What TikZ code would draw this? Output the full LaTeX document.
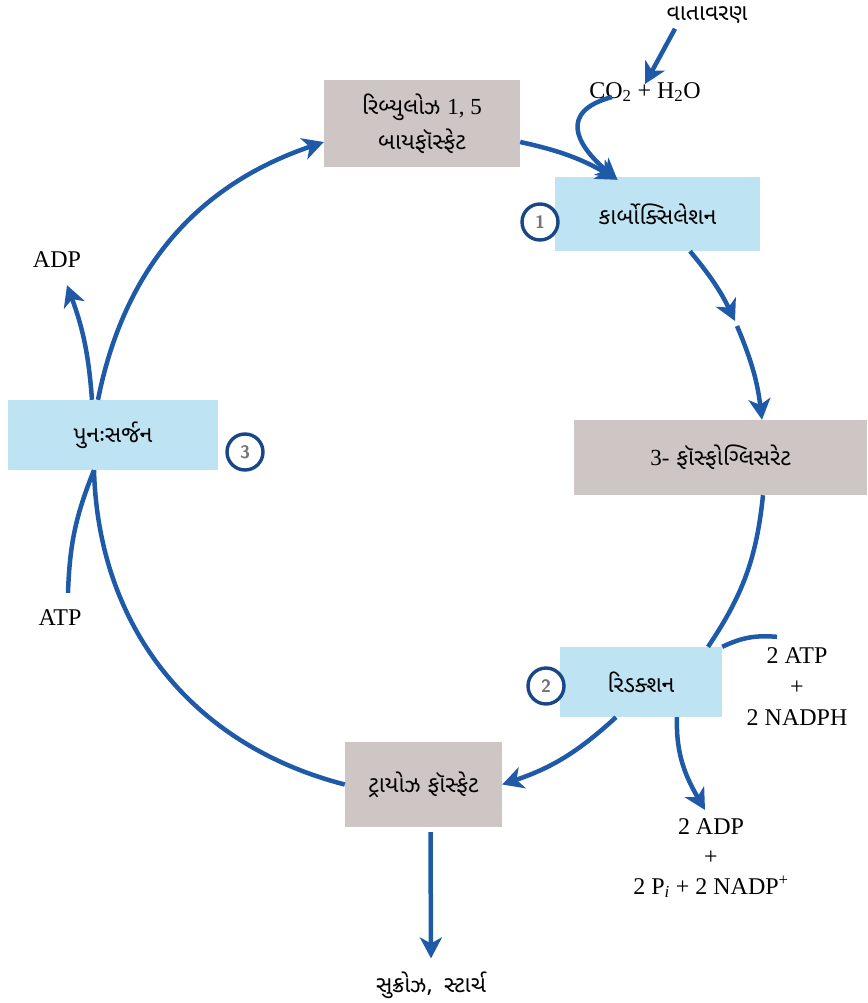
\documentclass[tikz,border=0pt]{standalone}
\usepackage{fontspec}
\setmainfont{Liberation Serif}
\newfontfamily\gujfont[Script=Gujarati]{Noto Sans Gujarati UI}
\usetikzlibrary{arrows.meta,positioning}

\definecolor{stepgray}{RGB}{206,197,197}
\definecolor{stepblue}{RGB}{190,227,242}
\definecolor{cycleblue}{RGB}{30,90,168}
\definecolor{ringblue}{RGB}{24,70,135}

\begin{document}
\begin{tikzpicture}[x=1pt, y=1pt,
  stage/.style={draw=none, align=center, inner sep=0pt,
                font=\gujfont\fontsize{23}{35}\selectfont},
  pool/.style={stage, fill=stepgray},
  phase/.style={stage, fill=stepblue},
  num/.style={circle, draw=ringblue, line width=3.4pt, fill=white,
              minimum size=36pt, inner sep=0pt, text=black!55,
              font=\sffamily\bfseries\fontsize{18}{18}\selectfont},
  lbl/.style={align=center, inner sep=0pt, font=\fontsize{24}{31}\selectfont},
  glbl/.style={inner sep=0pt, font=\gujfont\fontsize{23}{26}\selectfont},
  arr/.style={-{Stealth[length=21pt, width=22pt, inset=6pt]}, line width=4.5pt, draw=cycleblue},
  link/.style={line width=4.5pt, draw=cycleblue}
]
  \useasboundingbox (0,-1003) rectangle (867,0);

  % stages of the cycle
  \node[pool, minimum width=196pt, minimum height=87pt] (rubp) at (422,-123.5)
    {રિબ્યુલોઝ {\rmfamily 1, 5}\\બાયફૉસ્ફેટ};
  \node[phase, minimum width=205pt, minimum height=74pt] (carb) at (657.5,-214)
    {કાર્બોક્સિલેશન};
  \node[pool, minimum width=293pt, minimum height=75pt] (pga) at (720.5,-457.5)
    {{\rmfamily 3-} ફૉસ્ફોગ્લિસરેટ};
  \node[phase, minimum width=162pt, minimum height=70pt] (red) at (641,-682)
    {રિડક્શન};
  \node[pool, minimum width=157pt, minimum height=85pt] (triose) at (423.5,-784.5)
    {ટ્રાયોઝ ફૉસ્ફેટ};
  \node[phase, minimum width=210pt, minimum height=70pt] (regen) at (113,-435)
    {પુનઃસર્જન};

  \node[num] (one)   at (540,-222) {1};
  \node[num] (two)   at (546,-686) {2};
  \node[num] (three) at (245,-452) {3};

  % inputs and outputs
  \node[glbl] (atm)  at (707,-15) {વાતાવરણ};
  \node[lbl]  (co2)  at (645,-92) {CO\textsubscript{2} + H\textsubscript{2}O};
  \node[lbl]  (adp)  at (57,-260) {ADP};
  \node[lbl]  (atp)  at (60,-618) {ATP};
  \node[lbl]  (inp)  at (797,-687) {2 ATP\\+\\2 NADPH};
  \node[lbl, font=\fontsize{24}{30}\selectfont] (outp) at (711,-858)
    {2 ADP\\+\\2 P\textsubscript{\itshape i} + 2 NADP\textsuperscript{+}};
  \node[glbl] (sucr) at (431,-985) {સુક્રોઝ,\enspace સ્ટાર્ચ};

  \coordinate (brk) at (735,-321);

  \draw[arr] ([xshift=-15pt]regen.north) to[bend left=30] ([yshift=-18.5pt]rubp.west);
  \draw[arr] ([xshift=-21pt]regen.north) to[bend right=8] ([xshift=10pt,yshift=-17pt]adp.south);
  \draw[arr] ([yshift=-18.5pt]rubp.east) to[bend left=9] ([xshift=-40pt,yshift=-3pt]carb.north);
  \draw[arr] ([xshift=-33pt,yshift=5pt]co2.south) to[out=195,in=140,looseness=1.7] ([xshift=-40pt,yshift=-3pt]carb.north);
  \draw[arr] ([xshift=-32pt,yshift=-5pt]atm.south) -- ([yshift=-2pt]co2.north);
  \draw[arr] ([xshift=32.5pt]carb.south) to[bend left=7] (brk);
  \draw[arr] ([shift={(2pt,-5pt)}]brk) to[bend left=8] ([xshift=41.5pt]pga.north);
  \draw[link] ([xshift=42.5pt]pga.south) to[bend left=14] ([xshift=67pt]red.north);
  \draw[link] ([xshift=-20pt,yshift=11pt]inp.north) to[bend right=15] (red.north east);
  \draw[arr] ([xshift=-25pt]red.south) to[bend left=12] (triose.east);
  \draw[arr] ([xshift=36pt]red.south) to[out=-92,in=120] ([xshift=-6pt,yshift=8pt]outp.north);
  \draw[arr] ([xshift=7pt,yshift=-5pt]triose.south) -- ([yshift=13pt]sucr.north);
  \draw[link] (triose.west) to[bend left=37] ([xshift=-19pt]regen.south);
  \draw[link] ([xshift=8pt,yshift=17pt]atp.north) to[bend left=10] ([xshift=-19pt]regen.south);
\end{tikzpicture}
\end{document}
